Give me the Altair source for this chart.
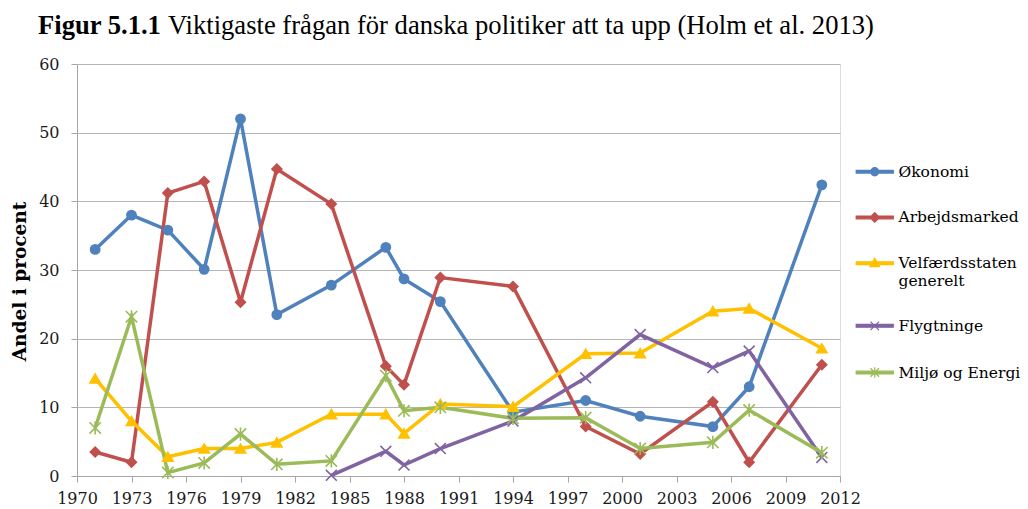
import altair as alt
import pandas as pd

# ---- data ----
years = [1971, 1973, 1975, 1977, 1979, 1981, 1984, 1987, 1988, 1990, 1994, 1998, 2001, 2005, 2007, 2011]
okonomi = [33.0, 38.0, 35.8, 30.1, 52.0, 23.5, 27.8, 33.3, 28.7, 25.4, 9.3, 11.0, 8.7, 7.2, 13.0, 42.4]
arbejdsmarked = [3.5, 2.0, 41.2, 42.9, 25.3, 44.7, 39.6, 16.0, 13.3, 28.9, 27.6, 7.2, 3.2, 10.8, 2.0, 16.2]
velfaerd = [14.2, 8.0, 2.8, 4.0, 4.0, 4.9, 9.0, 9.0, 6.2, 10.5, 10.1, 17.8, 17.9, 24.0, 24.4, 18.6]
flygt_years = [1984, 1987, 1988, 1990, 1994, 1998, 2001, 2005, 2007, 2011]
flygtninge = [0.1, 3.6, 1.6, 4.0, 8.0, 14.3, 20.6, 15.8, 18.2, 2.7]
miljo = [7.0, 23.2, 0.5, 1.9, 6.1, 1.7, 2.2, 14.6, 9.5, 10.0, 8.4, 8.5, 4.0, 4.9, 9.6, 3.4]

series = ["Økonomi", "Arbejdsmarked", "Velfærdsstaten generelt", "Flygtninge", "Miljø og Energi"]
colors = ["#4F81BD", "#C0504D", "#FFC000", "#8064A2", "#9BBB59"]
x_ticks = list(range(1970, 2013, 3))
y_ticks = list(range(0, 61, 10))

title_bold = "Figur 5.1.1"
title_rest = "Viktigaste frågan för danska politiker att ta upp (Holm et al. 2013)"

# ---- long table ----
rows = []
for name, xs, vs in [
    (series[0], years, okonomi),
    (series[1], years, arbejdsmarked),
    (series[2], years, velfaerd),
    (series[3], flygt_years, flygtninge),
    (series[4], years, miljo),
]:
    for x, v in zip(xs, vs):
        rows.append({"year": x, "value": v, "serie": name})
df = pd.DataFrame(rows)

# marker shapes (data points)
marker_shapes = [
    "circle",
    "diamond",
    "triangle-up",
    "M-1,-1L1,1M-1,1L1,-1",
    "M-1,-1L1,1M-1,1L1,-1M0,-1.15L0,1.15",
]
marker_sizes = [85, 130, 120, 110, 110]

# legend symbols: line (thin filled bar) + marker
BAR = "M-3.7,-0.27L3.7,-0.27L3.7,0.27L-3.7,0.27Z"
legend_shapes = [
    BAR + "M0.8,0A0.8,0.8,0,1,1,-0.8,0A0.8,0.8,0,1,1,0.8,0Z",
    BAR + "M0,-0.95L0.95,0L0,0.95L-0.95,0Z",
    BAR + "M0,-0.95L0.95,0.7L-0.95,0.7Z",
    BAR + "M-0.85,-0.85L0.85,0.85M-0.85,0.85L0.85,-0.85",
    BAR + "M-0.85,-0.85L0.85,0.85M-0.85,0.85L0.85,-0.85M0,-1.05L0,1.05",
]

def color_scale():
    return alt.Scale(domain=series, range=colors)

x_enc = alt.X(
    "year:Q",
    scale=alt.Scale(domain=[1970, 2012], nice=False, zero=False),
    axis=alt.Axis(
        values=x_ticks, format="d", grid=False, title=None,
        labelFont="DejaVu Serif", labelFontSize=16, labelColor="#1a1a1a",
        labelPadding=8, tickSize=6, tickColor="#A6A6A6", domainColor="#A6A6A6",
        labelFlush=False, labelOverlap=False,
    ),
)
y_enc = alt.Y(
    "value:Q",
    scale=alt.Scale(domain=[0, 60], nice=False),
    axis=alt.Axis(
        values=y_ticks, title="Andel i procent", grid=True, gridColor="#B5B5B5",
        labelFont="DejaVu Serif", labelFontSize=16, labelColor="#1a1a1a",
        labelPadding=12, tickSize=6, tickColor="#A6A6A6", domainColor="#A6A6A6",
        titleFont="DejaVu Serif", titleFontSize=18.5, titleFontWeight="bold",
        titleColor="#000000", titleX=-58, titleY=217, titleAngle=270,
        titleAlign="center", titleBaseline="middle",
    ),
)

base = alt.Chart(df)

lines = base.mark_line(strokeWidth=3.5).encode(
    x=x_enc, y=y_enc,
    color=alt.Color("serie:N", scale=color_scale(), legend=None),
    detail="serie:N",
)

points = base.mark_point(filled=True, strokeWidth=1.6, opacity=1).encode(
    x="year:Q", y="value:Q",
    color=alt.Color("serie:N", scale=color_scale(), legend=None),
    stroke=alt.Stroke("serie:N", scale=color_scale(), legend=None),
    shape=alt.Shape("serie:N", scale=alt.Scale(domain=series, range=marker_shapes), legend=None),
    size=alt.Size("serie:N", scale=alt.Scale(domain=series, range=marker_sizes), legend=None),
)

legend_props = dict(
    title=None, orient="none", legendX=790, legendY=100,
    symbolSize=100, symbolStrokeWidth=1.3, symbolOpacity=1,
    labelFont="DejaVu Serif", labelFontSize=15.5, labelColor="#000000",
    labelOffset=16, rowPadding=28.7, padding=0, labelLimit=300,
    labelExpr="datum.label == 'Velfærdsstaten generelt' ? ['Velfærdsstaten', 'generelt'] : datum.label",
)

legend_layer = base.mark_point(filled=True, opacity=0).encode(
    x="year:Q", y="value:Q",
    color=alt.Color("serie:N", scale=color_scale(), legend=alt.Legend(**legend_props)),
    stroke=alt.Stroke("serie:N", scale=color_scale(), legend=alt.Legend(**legend_props)),
    shape=alt.Shape("serie:N", scale=alt.Scale(domain=series, range=legend_shapes),
                    legend=alt.Legend(**legend_props)),
)

title_df = pd.DataFrame({"bold": [title_bold], "rest": [title_rest]})
t_bold = alt.Chart(title_df).mark_text(
    font="Liberation Serif", fontSize=26.6, fontWeight="bold", align="left", baseline="alphabetic", color="#000000"
).encode(text="bold:N", x=alt.value(-39), y=alt.value(-30))
t_rest = alt.Chart(title_df).mark_text(
    font="Liberation Serif", fontSize=26.6, align="left", baseline="alphabetic", color="#000000"
).encode(text="rest:N", x=alt.value(91), y=alt.value(-30))

chart = alt.layer(lines, points, legend_layer, t_bold, t_rest).resolve_scale(
    shape="independent", size="independent", color="independent", stroke="independent"
).properties(
    width=763, height=412,
    autosize=alt.AutoSizeParams(type="none"),
    padding={"left": 69, "top": 56, "right": 180, "bottom": 31},
).configure_view(stroke=None).configure(background="#ffffff").configure_legend(
    labelFont="DejaVu Serif", labelFontSize=15.5, labelColor="#000000"
)

chart.save("out.html", embed_options={"renderer": "svg", "actions": False})
